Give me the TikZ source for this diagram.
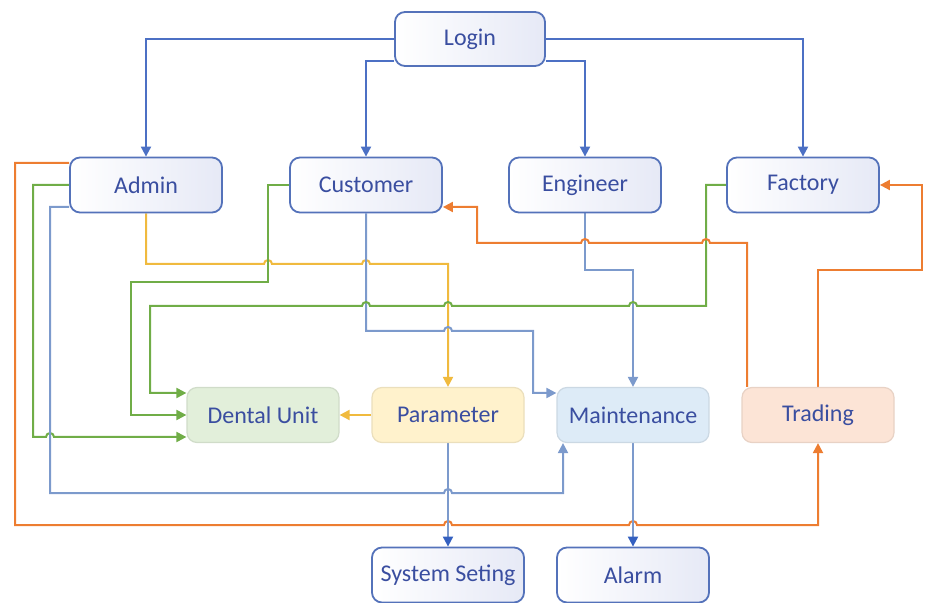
\documentclass[tikz,border=0pt]{standalone}
\usepackage{fontspec}
\setmainfont{Carlito}
\usetikzlibrary{arrows.meta,backgrounds}

\definecolor{nodeline}{RGB}{84,114,186}
\definecolor{nodetext}{RGB}{58,78,160}
\definecolor{lav}{RGB}{230,233,246}
\definecolor{loginblue}{RGB}{76,112,196}
\definecolor{tipblue}{RGB}{52,96,192}
\definecolor{paleblue}{RGB}{124,154,204}
\definecolor{lgreen}{RGB}{112,173,71}
\definecolor{lyellow}{RGB}{240,186,62}
\definecolor{lorange}{RGB}{237,125,49}
\definecolor{greenfill}{RGB}{226,239,218}
\definecolor{yellowfill}{RGB}{255,242,204}
\definecolor{bluefill}{RGB}{221,235,247}
\definecolor{orangefill}{RGB}{252,228,214}

\begin{document}
\begin{tikzpicture}[x=0.5pt,y=-0.5pt,
  box/.style={rounded corners=5pt, minimum width=76pt, minimum height=27.5pt,
    inner sep=0pt, font=\fontsize{12}{14}\selectfont, text=nodetext},
  role/.style={box, draw=nodeline, line width=0.9pt, left color=white, right color=lav},
  gbox/.style={box, fill=greenfill, draw=greenfill!92!black, line width=0.6pt},
  ybox/.style={box, fill=yellowfill, draw=yellowfill!92!black, line width=0.6pt},
  bbox/.style={box, fill=bluefill, draw=bluefill!92!black, line width=0.6pt},
  obox/.style={box, fill=orangefill, draw=orangefill!92!black, line width=0.6pt},
  link/.style={line width=1pt, -{Triangle[length=5pt,width=5pt]}},
  loginlink/.style={link, draw=loginblue},
  palelink/.style={link, draw=paleblue},
  downlink/.style={line width=1pt, draw=paleblue, -{Triangle[length=5pt,width=5pt,color=tipblue]}},
  greenlink/.style={link, draw=lgreen},
  yellowlink/.style={link, draw=lyellow},
  orangelink/.style={link, draw=lorange},
]
\useasboundingbox (0,0) rectangle (925,603);

% top level
\node[role, minimum width=75pt, minimum height=27pt] (login) at (470,39) {Login};

% user roles
\node[role] (admin)    at (146,185) {Admin};
\node[role] (customer) at (366,185) {Customer};
\node[role] (engineer) at (585,185) {Engineer};
\node[role] (factory)  at (803,185) {Factory};

% modules
\node[gbox] (dental)  at (263,415) {Dental Unit};
\node[ybox] (param)   at (448,415) {Parameter};
\node[bbox] (maint)   at (633,415) {Maintenance};
\node[obox] (trading) at (818,415) {Trading};

% sub modules
\node[role] (sys)   at (448,575) {System Seting};
\node[role] (alarm) at (633,575) {Alarm};

\begin{scope}[on background layer]
  % login to roles
  \draw[loginlink] (login.west) -| (admin.north);
  \draw[loginlink] (login.east) -| (factory.north);
  \draw[loginlink] ([yshift=-11pt]login.west) -| (customer.north);
  \draw[loginlink] ([yshift=-11pt]login.east) -| (engineer.north);

  % admin
  \draw[orangelink] ([yshift=11pt]admin.west) -| (15,525)
    -- (444,525) arc[start angle=180,end angle=0,radius=2pt]
    -- (629,525) arc[start angle=180,end angle=0,radius=2pt]
    -| (trading.south);
  \draw[greenlink] (admin.west) -| (33,437)
    -- (46,437) arc[start angle=180,end angle=0,radius=2pt]
    -- ([yshift=-11pt]dental.west);
  \draw[palelink] ([yshift=-11pt]admin.west) -| (50,493)
    -- (444,493) arc[start angle=180,end angle=0,radius=2pt]
    -| ([xshift=-35pt]maint.south);
  \draw[yellowlink] (admin.south) |- (264,264)
    arc[start angle=180,end angle=0,radius=2pt]
    -- (362,264) arc[start angle=180,end angle=0,radius=2pt]
    -| (param.north);

  % customer
  \draw[greenlink] (customer.west) -| (268,282) -| (131,415) -- (dental.west);
  \draw[palelink] (customer.south) |- (444,331)
    arc[start angle=180,end angle=0,radius=2pt]
    -- (533,331) |- ([yshift=11pt]maint.west);

  % engineer
  \draw[palelink] (engineer.south) |- (633,270) -- (maint.north);

  % factory
  \draw[greenlink] (factory.west) -| (706,306)
    -- (637,306) arc[start angle=0,end angle=180,radius=2pt]
    -- (452,306) arc[start angle=0,end angle=180,radius=2pt]
    -- (370,306) arc[start angle=0,end angle=180,radius=2pt]
    -- (150,306) |- ([yshift=11pt]dental.west);

  % modules
  \draw[yellowlink] (param.west) -- (dental.east);
  \draw[downlink] (param.south) -- (sys.north);
  \draw[downlink] (maint.south) -- (alarm.north);

  % trading
  \draw[orangelink] ([xshift=-35.5pt]trading.north) |- (710,243)
    arc[start angle=0,end angle=180,radius=2pt]
    -- (589,243) arc[start angle=0,end angle=180,radius=2pt]
    -- (477,243) |- ([yshift=-11pt]customer.east);
  \draw[orangelink] (trading.north) |- (922,270) |- (factory.east);
\end{scope}
\end{tikzpicture}
\end{document}
